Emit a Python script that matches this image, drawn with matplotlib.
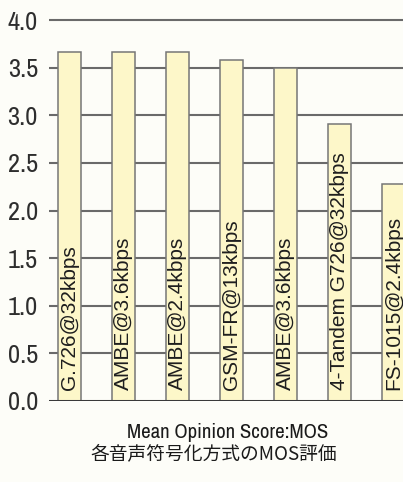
import matplotlib
matplotlib.use("Agg")
import matplotlib.pyplot as plt

# MOS scores per speech codec
codecs = ["G.726@32kbps", "AMBE@3.6kbps", "AMBE@2.4kbps", "GSM-FR@13kbps",
          "AMBE@3.6kbps", "4-Tandem G726@32kbps", "FS-1015@2.4kbps"]
mos = [3.66, 3.66, 3.66, 3.58, 3.50, 2.91, 2.28]
yticks = [0.0, 0.5, 1.0, 1.5, 2.0, 2.5, 3.0, 3.5, 4.0]
ytick_labels = ["0.0", "0.5", "1.0", "1.5", "2.0", "2.5", "3.0", "3.5", "4.0"]
title_en = "Mean Opinion Score:MOS"
title_ja = "各音声符号化方式のMOS評価"

narrow = ["Archivo Narrow", "DejaVu Sans"]
bg = "#fdfdf8"
W, H = 403, 482
fig = plt.figure(figsize=(W / 100, H / 100), dpi=100, facecolor=bg)

# axes: y=0 at pixel 401, y=4.0 at pixel 20
top_px, bot_px = 18, 401
ax = fig.add_axes([49 / W, 1 - bot_px / H, 1 - 49 / W, (bot_px - top_px) / H])
ax.set_facecolor(bg)
ymax = 4.0 + 4.0 * (2 / (401 - 20))
ax.set_ylim(0, ymax)
ax.set_xlim(-0.38, 6.18)

for y in yticks[1:]:
    ax.axhline(y, color="#6a6a6a", lw=1.5, zorder=1)
ax.axhline(0, color="#3a3a3a", lw=2.2, zorder=4)

x = list(range(len(codecs)))
ax.bar(x, mos, width=0.43, color="#fdf7c9", edgecolor="#767676", lw=1.1, zorder=2)

for xi, name in zip(x, codecs):
    ax.text(xi, 0.12, name, rotation=90, ha="center", va="bottom",
            fontsize=15, family="Liberation Sans", color="#1e1e1e", zorder=5)

ax.set_yticks(yticks)
ax.set_yticklabels(ytick_labels, family=narrow, fontsize=19, color="#2e2e2e")
ax.tick_params(axis="y", length=0, pad=8)
ax.set_xticks([])
for s in ax.spines.values():
    s.set_visible(False)

fig.text(228 / W, 1 - 433 / H, title_en, ha="center", va="center",
         family=narrow, fontsize=15, color="#1a1a1a")
fig.text(214 / W, 1 - 454 / H, title_ja, ha="center", va="center",
         family=["Noto Sans CJK JP", "DejaVu Sans"], fontsize=13.5,
         color="#1a1a1a")

fig.savefig("out.png", dpi=100, facecolor=bg)
